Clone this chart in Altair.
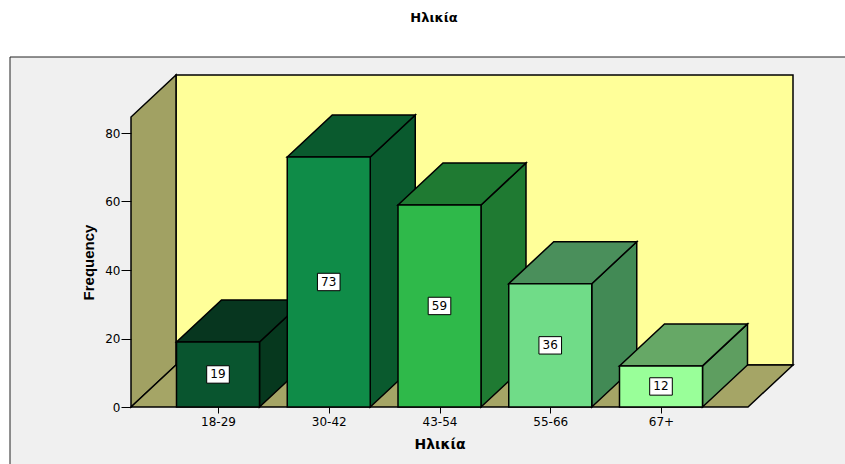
import json

import altair as alt
import pandas as pd

# ---- data ---------------------------------------------------------------
chart_title = "Ηλικία"
axis_x_title = "Ηλικία"
axis_y_title = "Frequency"
categories = ["18-29", "30-42", "43-54", "55-66", "67+"]
frequencies = [19, 73, 59, 36, 12]
y_tick_values = [0, 20, 40, 60, 80]

# ---- colours ------------------------------------------------------------
front_colors = ["#09552F", "#0F8C48", "#2FB94A", "#70DC88", "#99FF99"]
top_colors = ["#07361F", "#0A5A2E", "#1F7A32", "#4A8F5B", "#66A866"]
side_colors = ["#06381E", "#0A5A2E", "#1F7A32", "#428A55", "#5E9E60"]
back_wall_color = "#FFFF99"
left_wall_color = "#A1A163"
floor_color = "#A5A566"
frame_fill = "#F0F0F0"

# ---- 3-D box geometry (pixels) -------------------------------------------
W, H = 662, 332            # plot area
SLOT_PX = 110.75           # distance between category centres
FIRST_PX = 87              # first category centre from the left edge
UNIT_PX = 3.425            # pixels per frequency unit
DX_PX, DY_PX = 45, 42      # depth offset of the back plane
BAR_PX = 83                # bar width
BOX_W_PX, BOX_H_PX = 22.6, 17.4   # value label boxes

x_lo = -FIRST_PX / SLOT_PX
x_hi = x_lo + W / SLOT_PX
y_hi = H / UNIT_PX
dx = DX_PX / SLOT_PX
dy = DY_PX / UNIT_PX
half = BAR_PX / 2 / SLOT_PX
wall_h = y_hi - dy
box_hw = BOX_W_PX / 2 / SLOT_PX
box_hh = BOX_H_PX / 2 / UNIT_PX

# polygons described as area outlines: (x, lower y, upper y)
rows = []
order = []


def add(shape, fill, pts):
    order.append(shape)
    for x, lo, hi in pts:
        rows.append(dict(shape=shape, fill=fill, x=x, lo=lo, hi=hi))


add("back", back_wall_color, [(x_lo + dx, dy, y_hi), (x_hi, dy, y_hi)])
add("left", left_wall_color, [(x_lo, 0, wall_h), (x_lo + dx, dy, y_hi)])
add("floor", floor_color, [(x_lo, 0, 0), (x_lo + dx, 0, dy),
                           (x_hi - dx, 0, dy), (x_hi, dy, dy)])
for i, v in enumerate(frequencies):
    x0, x1 = i - half, i + half
    add(f"side{i}", side_colors[i], [(x1, 0, v), (x1 + dx, dy, v + dy)])
    add(f"top{i}", top_colors[i], [(x0, v, v), (x0 + dx, v, v + dy),
                                   (x1, v, v + dy), (x1 + dx, v + dy, v + dy)])
    add(f"front{i}", front_colors[i], [(x0, 0, v), (x1, 0, v)])

shapes = pd.DataFrame(rows)

labels = pd.DataFrame({
    "x": [i - box_hw for i in range(len(frequencies))],
    "x2": [i + box_hw for i in range(len(frequencies))],
    "xc": list(range(len(frequencies))),
    "freq": frequencies,
    "mid": [v / 2 for v in frequencies],
    "lo": [v / 2 - box_hh for v in frequencies],
    "hi": [v / 2 + box_hh for v in frequencies],
})

# ---- scales & axes ------------------------------------------------------
xs = alt.Scale(domain=[x_lo, x_hi], nice=False, zero=False)
ys = alt.Scale(domain=[0, y_hi], nice=False, zero=False)

x_axis = alt.Axis(
    values=list(range(len(categories))),
    labelExpr=f"{json.dumps(categories)}[datum.value]",
    title=axis_x_title, titleFont="DejaVu Sans", titleFontSize=14,
    titleFontWeight="bold", titleColor="black",
    titleX=308.5, titleY=37, titleBaseline="middle", titleAlign="center",
    labelFont="DejaVu Sans", labelFontSize=12, labelColor="black",
    labelPadding=3, tickSize=6, tickColor="black", domain=False, grid=False,
    zindex=1,
)
y_axis = alt.Axis(
    values=y_tick_values, format="d",
    title=axis_y_title, titleFont="Liberation Sans", titleFontSize=15,
    titleFontWeight="bold", titleColor="black", titleAngle=270,
    titleX=-43, titleY=187, titleBaseline="middle", titleAlign="center",
    labelFont="DejaVu Sans", labelFontSize=12, labelColor="black",
    labelPadding=1, tickSize=10, tickColor="black", domain=False, grid=False,
    zindex=1,
)


def X(field):
    return alt.X(f"{field}:Q", scale=xs, axis=x_axis)


def Y(field):
    return alt.Y(f"{field}:Q", scale=ys, axis=y_axis)


# ---- layers -------------------------------------------------------------
# grey panel behind the 3-D box
frame = alt.Chart(pd.DataFrame({"k": [0]})).mark_rect(
    fill=frame_fill, stroke="#222222", strokeWidth=1
).encode(
    x=alt.value(-121), x2=alt.value(740), y=alt.value(-18), y2=alt.value(420)
)

# chart heading, centred above the panel
heading = alt.Chart(pd.DataFrame({"t": [chart_title]})).mark_text(
    font="DejaVu Sans", fontSize=13, fontWeight="bold", color="black",
    baseline="middle", align="center"
).encode(x=alt.value(303), y=alt.value(-57), text="t:N")

layers = [frame, heading]
for s in order:
    layers.append(
        alt.Chart(shapes)
        .transform_filter(alt.datum.shape == s)
        .mark_area(stroke="black", strokeWidth=1.5, interpolate="linear",
                   strokeJoin="miter", opacity=1)
        .encode(x=X("x"), y=Y("lo"), y2="hi",
                color=alt.Color("fill:N", scale=None))
    )

boxes = alt.Chart(labels).mark_rect(
    fill="white", stroke="black", strokeWidth=1
).encode(x=X("x"), x2="x2", y=Y("lo"), y2="hi")

values_text = alt.Chart(labels).mark_text(
    font="DejaVu Sans", fontSize=12, color="black", baseline="middle"
).encode(x=X("xc"), y=Y("mid"), text="freq:Q")

layers += [boxes, values_text]

chart = alt.layer(*layers).properties(
    width=W, height=H,
    autosize=alt.AutoSizeParams(type="none"),
    padding={"left": 131, "top": 75, "right": 52, "bottom": 57},
).configure_view(stroke=None).configure(background="white")

chart.save("out.html", embed_options={"renderer": "svg", "actions": False})
